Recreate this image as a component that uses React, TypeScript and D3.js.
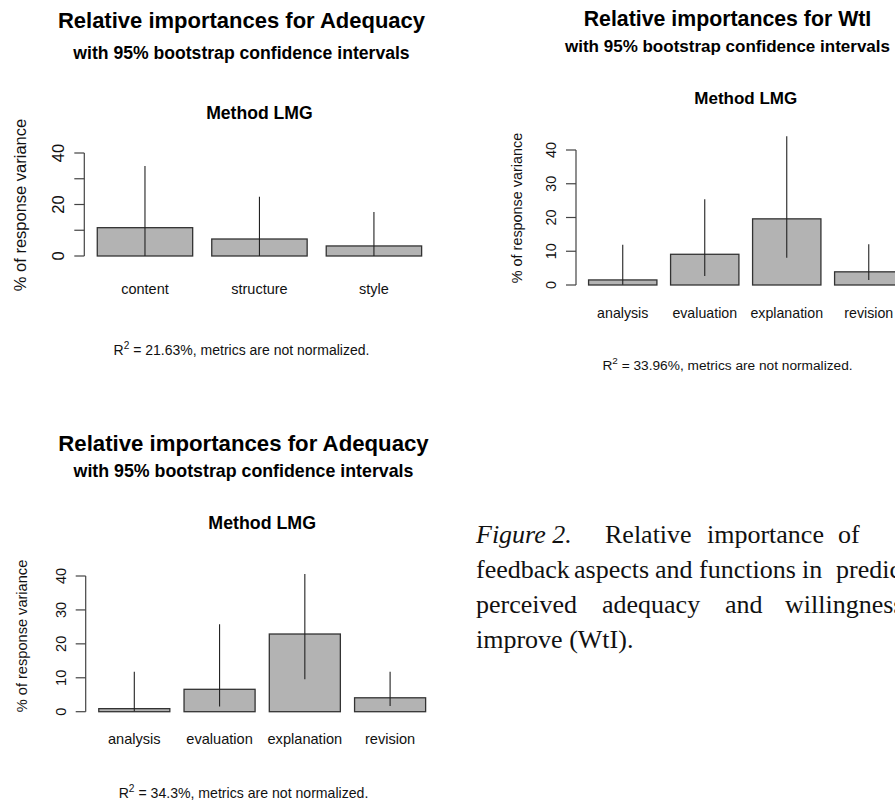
import * as d3 from 'd3';

// relaimpo LMG shares (% of response variance) with 95% bootstrap CIs
const aspectNames = ['content', 'structure', 'style'];
const aspectLmg = [11.0, 6.6, 3.9];
const aspectLower = [0, 0, 0];
const aspectUpper = [35.0, 23.0, 17.1];

const functionNames = ['analysis', 'evaluation', 'explanation', 'revision'];
const wtiLmg = [1.5, 9.1, 19.6, 3.9];
const wtiLower = [0.1, 2.7, 8.1, 1.5];
const wtiUpper = [11.9, 25.4, 44.1, 12.1];

const adequacyLmg = [0.9, 6.6, 22.9, 4.1];
const adequacyLower = [0.1, 1.5, 9.6, 1.7];
const adequacyUpper = [11.8, 25.8, 40.6, 11.8];

const yTicks = [0, 10, 20, 30, 40];
const sparseTicks = [0, 20, 40];

const captionLines = [
  ['Figure 2.', 'Relative', 'importance', 'of'],
  ['feedback', 'aspects', 'and', 'functions', 'in', 'predicting'],
  ['perceived', 'adequacy', 'and', 'willingness'],
  ['improve (WtI).'],
];

const SANS = '"Liberation Sans", Arial, Helvetica, sans-serif';
const SERIF = '"Liberation Serif", "Times New Roman", serif';

interface PanelProps {
  title: string;
  r2: string;
  names: string[];
  values: number[];
  lower: number[];
  upper: number[];
  labelled: number[];
  axisX: number;
  plotW: number;
  zeroY: number;
  topY: number;
  centerX: number;
  titleY: number;
  subY: number;
  methodY: number;
  nameY: number;
  r2Y: number;
  tickLabelX: number;
  ylabX: number;
  ylabY: number;
  fTitle: number;
  fSub: number;
  fText: number;
  fAxis: number;
}

function Panel(p: PanelProps) {
  const n = p.names.length;
  const x = d3.scaleBand<string>()
    .domain(p.names)
    .range([p.axisX, p.axisX + p.plotW])
    .paddingInner(0.2 / 1.2)
    .paddingOuter((0.04 * (1.2 * n - 0.2)) / 1.2);
  const y = d3.scaleLinear().domain([0, 40]).range([p.zeroY, p.topY]);
  const methodX = p.axisX + p.plotW / 2;

  return (
    <g fontFamily={SANS}>
      <text x={p.centerX} y={p.titleY} textAnchor="middle" fontWeight="bold" fontSize={p.fTitle}>
        {p.title}
      </text>
      <text x={p.centerX} y={p.subY} textAnchor="middle" fontWeight="bold" fontSize={p.fSub}>
        with 95% bootstrap confidence intervals
      </text>
      <text x={methodX} y={p.methodY} textAnchor="middle" fontWeight="bold" fontSize={p.fSub}>
        Method LMG
      </text>

      {p.names.map((d, i) => (
        <rect
          key={d}
          x={x(d)}
          y={y(p.values[i])}
          width={x.bandwidth()}
          height={y(0) - y(p.values[i])}
          fill="#b3b3b3"
          stroke="#333"
          strokeWidth={1.3}
        />
      ))}
      {p.names.map((d, i) => (
        <line
          key={d}
          x1={x(d)! + x.bandwidth() / 2}
          x2={x(d)! + x.bandwidth() / 2}
          y1={y(p.lower[i])}
          y2={y(p.upper[i])}
          stroke="#222"
          strokeWidth={1.1}
        />
      ))}
      {p.names.map((d) => (
        <text
          key={d}
          x={x(d)! + x.bandwidth() / 2}
          y={p.nameY}
          textAnchor="middle"
          fontSize={p.fText}
          fill="#111"
        >
          {d}
        </text>
      ))}

      <line x1={p.axisX} x2={p.axisX} y1={y(0)} y2={y(40)} stroke="#444" strokeWidth={1.2} />
      {yTicks.map((t) => (
        <line key={t} x1={p.axisX - 10} x2={p.axisX} y1={y(t)} y2={y(t)} stroke="#444" strokeWidth={1.2} />
      ))}
      {p.labelled.map((t) => (
        <text
          key={t}
          transform={`translate(${p.tickLabelX},${y(t)}) rotate(-90)`}
          textAnchor="middle"
          fontSize={p.fAxis}
          fill="#111"
        >
          {t}
        </text>
      ))}
      <text
        transform={`translate(${p.ylabX},${p.ylabY}) rotate(-90)`}
        textAnchor="middle"
        fontSize={p.fAxis}
        fill="#111"
      >
        % of response variance
      </text>

      <text x={p.centerX} y={p.r2Y} textAnchor="middle" fontSize={p.fText - 0.5} fill="#111">
        R<tspan dy={-6} fontSize={p.fText * 0.7}>2</tspan>
        <tspan dy={6}>{` = ${p.r2}%, metrics are not normalized.`}</tspan>
      </text>
    </g>
  );
}

const captionX = [
  [476, 605, 707, 838],
  [476, 574, 655, 699, 802, 836],
  [476, 602, 725, 785],
  [476],
];

export default function App() {
  return (
    <svg
      width={895}
      height={802}
      style={{ position: 'absolute', left: 0, top: 0, background: '#fff' }}
    >
      <rect width={895} height={802} fill="#fff" />
      <Panel
        title="Relative importances for Adequacy"
        r2="21.63"
        names={aspectNames}
        values={aspectLmg}
        lower={aspectLower}
        upper={aspectUpper}
        labelled={sparseTicks}
        axisX={84.3}
        plotW={350.3}
        zeroY={256}
        topY={153}
        centerX={241.5}
        titleY={27.5}
        subY={58.5}
        methodY={119}
        nameY={294}
        r2Y={355}
        tickLabelX={63.5}
        ylabX={26}
        ylabY={205}
        fTitle={22}
        fSub={17.6}
        fText={14.5}
        fAxis={16.5}
      />
      <Panel
        title="Relative importances for WtI"
        r2="33.96"
        names={functionNames}
        values={wtiLmg}
        lower={wtiLower}
        upper={wtiUpper}
        labelled={yTicks}
        axisX={576}
        plotW={339.5}
        zeroY={285}
        topY={150}
        centerX={727.5}
        titleY={25.7}
        subY={52.3}
        methodY={104.3}
        nameY={318.3}
        r2Y={370}
        tickLabelX={555.5}
        ylabX={522}
        ylabY={208}
        fTitle={21.3}
        fSub={17}
        fText={14.2}
        fAxis={14.4}
      />
      <Panel
        title="Relative importances for Adequacy"
        r2="34.3"
        names={functionNames}
        values={adequacyLmg}
        lower={adequacyLower}
        upper={adequacyUpper}
        labelled={yTicks}
        axisX={85.7}
        plotW={353}
        zeroY={711.7}
        topY={576}
        centerX={243.5}
        titleY={450.7}
        subY={477.3}
        methodY={529.3}
        nameY={744.3}
        r2Y={797.7}
        tickLabelX={65.5}
        ylabX={27}
        ylabY={636}
        fTitle={22.2}
        fSub={17.8}
        fText={14.6}
        fAxis={14.6}
      />

      <g fontFamily={SERIF} fontSize={26} fill="#111">
        {captionLines.map((words, li) =>
          words.map((w, wi) => (
            <text
              key={`${li}-${wi}`}
              x={captionX[li][wi]}
              y={543 + li * 35}
              fontStyle={li === 0 && wi === 0 ? 'italic' : 'normal'}
            >
              {w}
            </text>
          ))
        )}
      </g>
    </svg>
  );
}
